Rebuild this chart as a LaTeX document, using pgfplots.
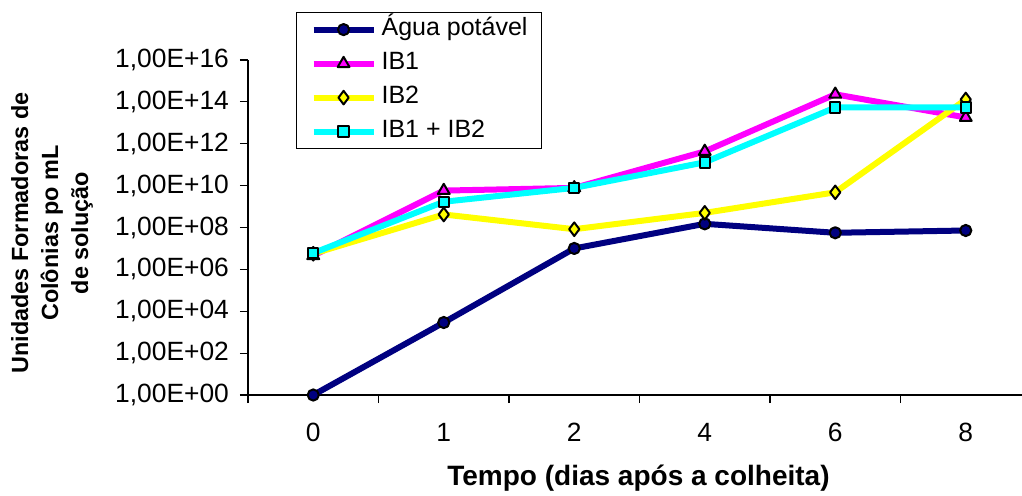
\documentclass[border=0pt]{standalone}
\usepackage{fontspec}
\setmainfont{Liberation Sans}
\usepackage{pgfplots}
\pgfplotsset{compat=1.18}

\definecolor{agua}{RGB}{0,0,128}
\definecolor{ibum}{RGB}{255,0,255}
\definecolor{ibdois}{RGB}{255,255,0}
\definecolor{ibmix}{RGB}{0,255,255}

\begin{document}
\begin{tikzpicture}
\useasboundingbox (-124pt,-50pt) rectangle (387pt,197.5pt);
\begin{axis}[
  at={(0pt,0pt)}, anchor=south west,
  scale only axis, width=387pt, height=167.5pt,
  clip=false,
  ymode=log, ymin=1, ymax=1e16,
  xmin=-0.5, xmax=5.431,
  axis x line*=bottom, axis y line*=left,
  axis line style={-, line width=0.6pt, black},
  tick align=outside, major tick length=4pt,
  tick style={black, line width=0.6pt},
  ytick={1,1e2,1e4,1e6,1e8,1e10,1e12,1e14,1e16},
  yticklabels={{1,00E+00},{1,00E+02},{1,00E+04},{1,00E+06},{1,00E+08},{1,00E+10},{1,00E+12},{1,00E+14},{1,00E+16}},
  yminorticks=false,
  yticklabel style={font=\fontsize{13.2}{15}\selectfont, xshift=-2pt},
  xtick={-0.5,0.5,1.5,2.5,3.5,4.5}, xticklabels={},
  extra x ticks={0,1,2,3,4,5},
  extra x tick labels={0,1,2,4,6,8},
  extra x tick style={major tick length=0pt},
  xticklabel style={font=\fontsize{13.2}{15}\selectfont, yshift=-10.5pt},
  xlabel={Tempo (dias após a colheita)},
  xlabel style={at={(axis description cs:0.5045,-0.248)}, anchor=center,
    font=\fontsize{14}{16}\selectfont\bfseries},
  ylabel={Unidades Formadoras de\\Colônias po mL\\de solução},
  ylabel style={at={(axis description cs:-0.2532,0.4836)}, anchor=center,
    align=center, font=\fontsize{11.7}{15}\selectfont\bfseries},
  every axis plot/.append style={line width=3pt, line join=round},
  legend image code/.code={\draw[mark repeat=2,mark phase=2,#1] plot coordinates {(0pt,0pt) (15pt,0pt) (30pt,0pt)};},
  legend cell align=left,
  legend style={at={(axis description cs:0.062,1.1433)}, anchor=north west,
    draw=black, line width=0.6pt, font=\fontsize{12.5}{15}\selectfont,
    inner xsep=7pt, inner ysep=2.5pt, row sep=5pt, column sep=2.5pt,
    nodes={inner sep=0pt, text height=9pt, text depth=3pt}},
]
\addplot[agua, mark=*, mark size=2.8pt, mark options={fill=agua, draw=black, line width=1pt}]
  coordinates {(0,1) (1,2.9e3) (2,1.0e7) (3,1.5e8) (4,5.6e7) (5,7.2e7)};
\addlegendentry{Água potável}
\addplot[ibum, mark=triangle*, mark size=3.4pt, mark options={fill=ibum, draw=black, line width=1pt}]
  coordinates {(0,4.5e6) (1,5.8e9) (2,7.8e9) (3,4.3e11) (4,2.3e14) (5,1.8e13)};
\addlegendentry{IB1}
\addplot[ibdois, mark=diamond*, mark size=3.4pt, mark options={fill=ibdois, draw=black, line width=1pt}]
  coordinates {(0,5.6e6) (1,4.2e8) (2,8.3e7) (3,5.0e8) (4,4.8e9) (5,1.3e14)};
\addlegendentry{IB2}
\addplot[ibmix, mark=square*, mark size=2.6pt, mark options={fill=ibmix, draw=black, line width=1pt}]
  coordinates {(0,6.0e6) (1,1.7e9) (2,7.8e9) (3,1.3e11) (4,5.4e13) (5,5.4e13)};
\addlegendentry{IB1 + IB2}
\end{axis}
\end{tikzpicture}
\end{document}
